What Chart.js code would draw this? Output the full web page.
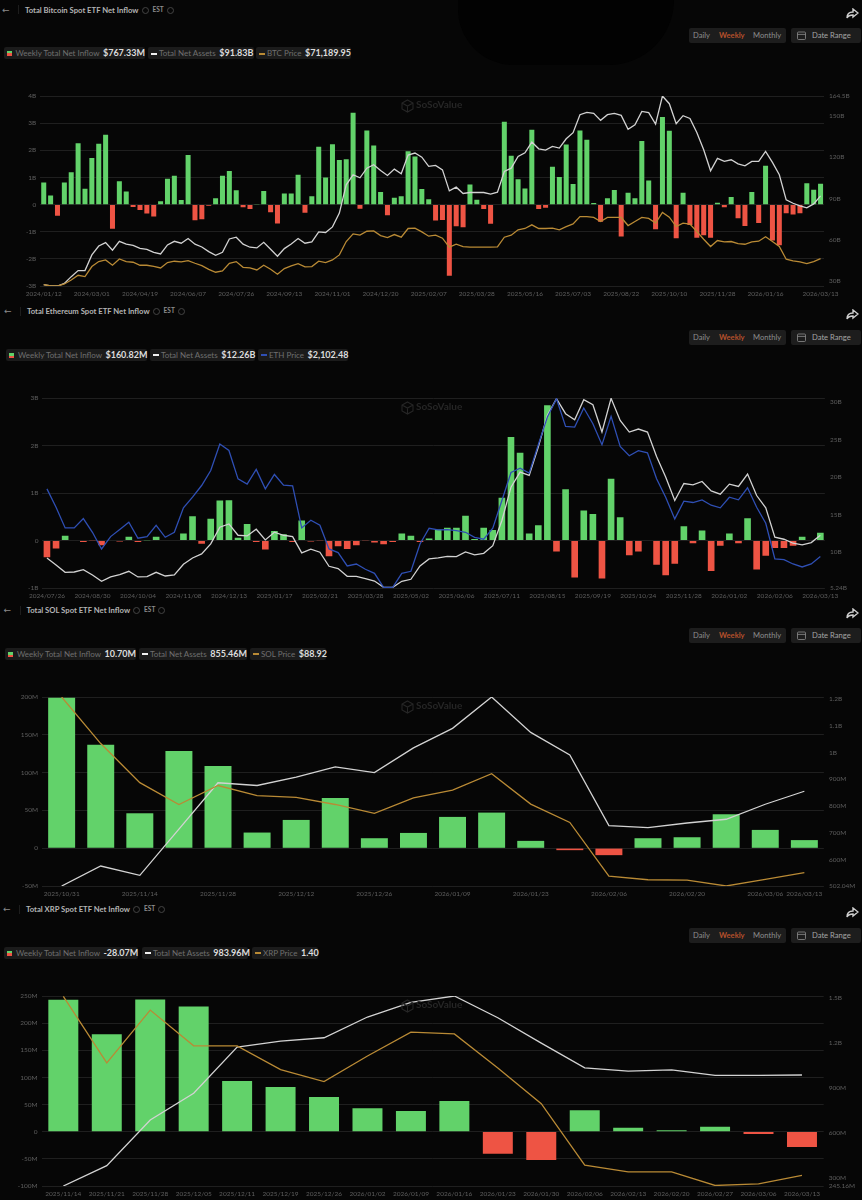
<!DOCTYPE html>
<html>
<head>
<meta charset="utf-8">
<title>Spot ETF Net Inflow</title>
<script src="https://cdn.jsdelivr.net/npm/chart.js@4/dist/chart.umd.min.js"></script>
<style>
html, body { margin: 0; padding: 0; background: #060606; }
body { width: 862px; height: 1200px; position: relative; overflow: hidden; font-family: Lato, sans-serif; filter: blur(0.3px); }
canvas { position: absolute; left: 0; }
.abs { position: absolute; white-space: nowrap; }
.title { font-size: 7.7px; font-weight: 700; color: #b4b4b4; line-height: 10px; }
.est { font-size: 6.5px; font-weight: 700; color: #8c8c8c; line-height: 10px; }
.arrow { font-family: "DejaVu Sans"; font-size: 9px; color: #8a8a8a; line-height: 10px; }
.info { width: 5px; height: 5px; border: 0.7px solid #444; border-radius: 50%; }
.sep { width: 1px; height: 9px; background: #1d1d1d; }
.pill { height: 12px; background: #1b1b1b; border-radius: 2px; font-size: 8px; color: #6f6f6f; line-height: 12px; }
.pill b { font-size: 9px; font-weight: 700; color: #dcdcdc; margin-left: 1.5px; }
.pill i { display: inline-block; vertical-align: middle; margin: 0 2px 1px 3px; }
.btnbox { height: 15px; background: #1d1d1d; border-radius: 2px; font-size: 7.6px; line-height: 15px; color: #8d8d8d; }
.btnbox span { position: absolute; top: 0; }
.wm { color: #262626; font-size: 10px; font-weight: 700; }
</style>
</head>
<body>
<div class="abs" style="left:458px;top:0;width:216px;height:65px;background:#020202;border-radius:0 0 70px 60px"></div>
<script>
// colours
const green = '#62d26a';
const red = '#ee5444';
const white = '#d2d2d2';
const orange = '#b98a35';
const blue = '#2f4fb4';
const gridColor = '#262626';
const tickColor = '#5f5f5f';

// Bitcoin (inflow in $B, assets in $B, price in $k)
const btcTickIdx = [0, 7, 14, 21, 28, 35, 42, 49, 56, 63, 70, 77, 84, 91, 98, 105, 113];
const btcTickLabels = ['2024/01/12', '2024/03/01', '2024/04/19', '2024/06/07', '2024/07/26', '2024/09/13', '2024/11/01', '2024/12/20', '2025/02/07', '2025/03/28', '2025/05/16', '2025/07/03', '2025/08/22', '2025/10/10', '2025/11/28', '2026/01/16', '2026/03/13'];
const btcInflow = [0.81, 0.33, -0.41, 0.81, 1.19, 2.26, 0.58, 1.72, 2.24, 2.57, -0.89, 0.86, 0.48, -0.09, -0.2, -0.33, -0.44, 0.12, 0.95, 1.06, 0.17, 1.83, -0.58, -0.54, -0.04, 0.23, 1.06, 1.24, 0.53, -0.1, -0.16, 0.02, 0.5, -0.28, -0.7, 0.41, 0.41, 1.1, -0.3, 0.31, 2.13, 1.0, 2.22, 1.64, 1.67, 3.38, -0.15, 2.73, 2.18, 0.46, -0.39, 0.25, 0.31, 1.96, 1.77, 0.57, 0.2, -0.59, -0.57, -2.62, -0.8, -0.84, 0.74, 0.18, -0.16, -0.71, 0.01, 3.05, 1.8, 0.93, 0.59, 2.76, -0.16, -0.12, 1.39, 1.02, 2.21, 0.76, 2.73, 2.39, 0.06, -0.63, 0.23, 0.54, -1.18, 0.44, 0.23, 2.34, 0.89, -0.91, 3.23, 2.72, -1.24, 0.44, -0.75, -1.22, -1.13, -1.22, 0.07, -0.1, 0.28, -0.5, -0.79, 0.46, -0.68, 1.43, -1.32, -1.5, -0.32, -0.37, -0.32, 0.79, 0.55, 0.767];
const btcAssets = [27.3, 26.3, 26.3, 28.2, 33.1, 37.5, 37.5, 48.9, 55.4, 57.9, 52.3, 58.8, 56.7, 55.9, 53.7, 53, 50.8, 49.6, 56.2, 58.8, 57.4, 60.8, 56.7, 54.7, 51.3, 48.6, 50.8, 60.5, 61.8, 56.7, 54.5, 54, 58.1, 53, 47.9, 53.5, 56.9, 60.8, 57.4, 58.4, 65.6, 65.2, 69.3, 79.3, 99.9, 107.2, 105, 112, 114.5, 110.3, 106.7, 111.3, 107.9, 121.5, 123, 120, 113.3, 114, 110.8, 95.5, 98.2, 93.6, 94.3, 94.3, 94.3, 93.1, 94.5, 109.6, 112, 120.5, 123.2, 131, 126.1, 125.2, 127.8, 126.6, 133.4, 137.8, 150.9, 152.6, 151.9, 146.8, 150.9, 151.9, 150.4, 140.2, 143.6, 153.3, 152.4, 144.1, 164.5, 158.9, 144.3, 150.2, 148.2, 138, 125.4, 110.1, 119.1, 116.9, 118.1, 115.2, 113.7, 116.9, 116.9, 124.2, 116.2, 107.2, 89, 86.5, 84.6, 83.1, 86, 91.83];
const btcPrice = [42.8, 41.3, 41.3, 43.5, 47.9, 53, 51.5, 62.5, 67.9, 69.7, 63.9, 70.8, 67.9, 67.2, 63.9, 63.9, 62.8, 61, 66.8, 68.3, 67.6, 69, 66.1, 63.5, 59.5, 56.3, 57.7, 66.1, 67.9, 61.7, 61, 58.8, 63.9, 59.5, 54.1, 60.3, 63.2, 65.7, 62.1, 62.5, 68.3, 66.8, 69.7, 75.2, 89.8, 98.1, 96.7, 101, 101.4, 96.3, 94.1, 97.4, 94.5, 104, 104.3, 100.3, 95.6, 96.7, 93.4, 83.6, 86.8, 84.3, 83.6, 83.6, 83.6, 83.6, 83.9, 94.5, 96.7, 102.5, 104, 108, 104, 104, 104.3, 102.5, 106.1, 109, 117, 117, 116, 111.6, 116, 116, 116, 107.2, 111.6, 116, 114.9, 109.8, 121.4, 116.3, 106.1, 109.8, 108.7, 100.7, 92.3, 84.3, 90.9, 89.4, 89.8, 87.6, 86.8, 89.4, 90.1, 94.9, 89.8, 84.3, 70.5, 68.6, 67.6, 65.7, 67.9, 71.19];
const btcLeftTicks = [4, 3, 2, 1, 0, -1, -2, -3];
const btcLeftLabels = ['4B', '3B', '2B', '1B', '0', '-1B', '-2B', '-3B'];
const btcRightTicks = [164.5, 150, 120, 90, 60, 30];
const btcRightLabels = ['164.5B', '150B', '120B', '90B', '60B', '30B'];

// Ethereum (inflow in $B, assets in $B, price in $)
const ethTickIdx = [0, 5, 10, 15, 20, 25, 30, 35, 40, 45, 50, 55, 60, 65, 70, 75, 80, 85];
const ethTickLabels = ['2024/07/26', '2024/08/30', '2024/10/04', '2024/11/08', '2024/12/13', '2025/01/17', '2025/02/21', '2025/03/28', '2025/05/02', '2025/06/06', '2025/07/11', '2025/08/15', '2025/09/19', '2025/10/24', '2025/11/28', '2026/01/02', '2026/02/06', '2026/03/13'];
const ethInflow = [-0.35, -0.17, 0.1, -0.01, -0.03, -0.005, -0.1, -0.01, -0.02, 0.08, -0.03, 0.003, 0.08, -0.01, 0.01, 0.15, 0.51, -0.07, 0.46, 0.84, 0.85, 0.06, 0.35, -0.03, -0.19, 0.2, 0.13, -0.03, 0.42, -0.02, -0.003, -0.33, -0.12, -0.18, -0.1, -0.005, -0.04, -0.08, -0.03, 0.15, 0.1, -0.03, 0.04, 0.23, 0.27, 0.27, 0.52, 0.03, 0.27, 0.22, 0.9, 2.18, 1.85, 0.15, 0.32, 2.85, -0.23, 1.08, -0.78, 0.63, 0.56, -0.8, 1.3, 0.49, -0.31, -0.23, 0.01, -0.51, -0.73, -0.49, 0.3, -0.06, 0.21, -0.64, -0.11, 0.15, -0.06, 0.47, -0.61, -0.32, -0.16, -0.16, -0.11, 0.08, 0.01, 0.161];
const ethAssets = [9.24, 8.31, 7.33, 7.37, 7.68, 6.97, 6.13, 6.71, 7.02, 7.46, 6.71, 6.75, 7.33, 6.84, 6.97, 8.4, 9.24, 9.77, 11.11, 13.33, 13.77, 12.26, 12.17, 13.06, 11.64, 12.66, 12.26, 12.08, 9.91, 10.4, 10, 8.13, 7.82, 6.8, 6.8, 6.48, 6.17, 5.33, 5.33, 6.13, 6.4, 8.17, 9.11, 9.24, 9.46, 9.42, 10.04, 9.64, 9.86, 10.88, 14.22, 18.66, 20.66, 20.22, 24, 28.22, 30.44, 28.44, 27.64, 30.31, 29.64, 26, 30.48, 27.55, 26, 26.4, 26, 22.75, 20, 16.88, 19.15, 18.97, 19.42, 18.17, 17.73, 19.06, 18.75, 20.4, 17.55, 15.9, 12, 11.73, 11.2, 10.97, 11.28, 12.26];
const ethPrice = [3279, 2960, 2601, 2601, 2763, 2525, 2235, 2450, 2572, 2699, 2421, 2450, 2647, 2438, 2525, 2949, 3134, 3337, 3598, 4057, 3946, 3453, 3361, 3616, 3279, 3529, 3343, 3332, 2601, 2734, 2647, 2235, 2172, 1940, 1974, 1882, 1812, 1568, 1568, 1812, 1847, 2322, 2595, 2566, 2572, 2554, 2525, 2438, 2404, 2595, 3076, 3564, 3639, 3552, 4045, 4526, 4845, 4364, 4352, 4683, 4410, 4045, 4538, 4016, 3854, 3941, 3906, 3453, 3134, 2757, 3065, 3042, 3088, 2995, 2949, 3134, 3088, 3297, 2960, 2682, 2061, 2050, 1974, 1922, 1974, 2102.48];
const ethLeftTicks = [3, 2, 1, 0, -1];
const ethLeftLabels = ['3B', '2B', '1B', '0', '-1B'];
const ethRightTicks = [30, 25, 20, 15, 10, 5.24];
const ethRightLabels = ['30B', '25B', '20B', '15B', '10B', '5.24B'];

// Solana (inflow in $M, assets in $M, price in $)
const solTickIdx = [0, 2, 4, 6, 8, 10, 12, 14, 16, 18, 19];
const solTickLabels = ['2025/10/31', '2025/11/14', '2025/11/28', '2025/12/12', '2025/12/26', '2026/01/09', '2026/01/23', '2026/02/06', '2026/02/20', '2026/03/06', '2026/03/13'];
const solInflow = [199, 136.9, 46.2, 128.5, 108.7, 20.7, 37.4, 66.5, 13.2, 20.2, 41.4, 47.1, 9.7, -2.6, -9.2, 13.2, 14.5, 44.9, 24.2, 10.7];
const solAssets = [502, 576.5, 541.8, 714, 887, 877, 908, 946, 925, 1017, 1090, 1207, 1075, 991, 727, 720, 737, 751, 807, 855.46];
const solPrice = [187, 161, 139.2, 127, 137.6, 132, 131, 127, 122, 130.7, 135, 144.2, 127.2, 117, 87, 85, 84.8, 81.5, 85.2, 88.92];
const solLeftTicks = [200, 150, 100, 50, 0, -50];
const solLeftLabels = ['200M', '150M', '100M', '50M', '0', '-50M'];
const solRightTicks = [1200, 1100, 1000, 900, 800, 700, 600, 502.04];
const solRightLabels = ['1.2B', '1.1B', '1B', '900M', '800M', '700M', '600M', '502.04M'];

// XRP (inflow in $M, assets in $M, price in $)
const xrpTickIdx = [0, 1, 2, 3, 4, 5, 6, 7, 8, 9, 10, 11, 12, 13, 14, 15, 16, 17];
const xrpTickLabels = ['2025/11/14', '2025/11/21', '2025/11/28', '2025/12/05', '2025/12/11', '2025/12/19', '2025/12/26', '2026/01/02', '2026/01/09', '2026/01/16', '2026/01/23', '2026/01/30', '2026/02/06', '2026/02/13', '2026/02/20', '2026/02/27', '2026/03/06', '2026/03/13'];
const xrpInflow = [243, 179.6, 243.5, 230.6, 93.5, 82.4, 64, 43, 38, 56.6, -40.6, -52.3, 39.4, 7.4, 2.5, 9.2, -4.3, -28.07];
const xrpAssets = [245, 381, 685, 863, 1170, 1210, 1232, 1370, 1468, 1510, 1365, 1196, 1032, 1010, 1018, 981, 981, 983.96];
const xrpPrice = [2.45, 2.06, 2.37, 2.16, 2.16, 2.02, 1.95, 2.1, 2.24, 2.23, 2.03, 1.82, 1.46, 1.42, 1.42, 1.34, 1.35, 1.4];
const xrpLeftTicks = [250, 200, 150, 100, 50, 0, -50, -100];
const xrpLeftLabels = ['250M', '200M', '150M', '100M', '50M', '0', '-50M', '-100M'];
const xrpRightTicks = [1500, 1200, 900, 600, 300, 245.16];
const xrpRightLabels = ['1.5B', '1.2B', '900M', '600M', '300M', '245.16M'];

function el(cls, left, top, html, extra) {
    const d = document.createElement('div');
    d.className = 'abs ' + cls;
    d.style.left = left + 'px';
    d.style.top = top + 'px';
    if (extra) d.style.cssText += extra;
    d.innerHTML = html || '';
    document.body.appendChild(d);
    return d;
}

function drawHeader(p) {
    const ty = p.titleY;
    el('arrow', p.titleX - 23, ty - 5, '←');
    el('sep', p.titleX - 7, ty - 4.5);
    const t = el('title', p.titleX, ty - 5, p.title);
    const w = t.getBoundingClientRect().width;
    el('info', p.titleX + w + 3, ty - 3);
    el('est', p.titleX + w + 14, ty - 5, 'EST');
    el('info', p.titleX + w + 28, ty - 3);

    // share button
    el('', 845, ty - 6, '<svg width="14" height="12" viewBox="0 0 14 12"><path d="M8 1l5 4-5 4V7C5 7 3 8 2 10c0-4 2-6 6-6z" fill="none" stroke="#cfcfcf" stroke-width="1.4"/></svg>');

    // period switch
    const by = p.btnY;
    el('btnbox', 689, by - 7.5, '<span style="left:4px">Daily</span><span style="left:30px;color:#b5502c;font-weight:700">Weekly</span><span style="left:64px">Monthly</span>', 'width:97px');
    el('btnbox', 791, by - 7.5, '<svg style="position:absolute;left:6px;top:3px" width="9" height="9" viewBox="0 0 9 9"><rect x="0.5" y="1" width="8" height="7.5" rx="1" fill="none" stroke="#8d8d8d" stroke-width="0.8"/><path d="M0.5 3.4h8" stroke="#8d8d8d" stroke-width="0.8"/></svg><span style="left:21px;color:#a5a5a5">Date Range</span>', 'width:70px');

    // legend
    const ly = p.legendY - 6;
    const swatch = '<i style="width:5px;height:5px;background:linear-gradient(#62d26a 50%,#ee5444 50%)"></i>';
    const dash = c => '<i style="width:6px;height:2px;background:' + c + '"></i>';
    el('pill', p.pills[0], ly, swatch + ' Weekly Total Net Inflow <b>' + p.legend[0] + '</b>', 'width:' + p.pills[1] + 'px');
    el('pill', p.pills[2], ly, dash('#f0f0f0') + 'Total Net Assets <b>' + p.legend[1] + '</b>', 'width:' + p.pills[3] + 'px');
    el('pill', p.pills[4], ly, dash(p.lineColor) + p.priceName + ' <b>' + p.legend[2] + '</b>', 'width:' + p.pills[5] + 'px');

    // watermark
    el('wm', 416, p.top + 2, 'SoSoValue');
    el('', 401, p.top + 1, '<svg width="13" height="14" viewBox="0 0 13 14"><path d="M6.5 1l5.5 3v6l-5.5 3L1 10V4z M1 4l5.5 3 5.5-3 M6.5 7v6" fill="none" stroke="#262626" stroke-width="1.1"/></svg>');
}

function drawChart(p) {
    const canvas = document.createElement('canvas');
    const pad = 6;
    const xHeight = 14;
    canvas.width = 862;
    canvas.height = Math.round(p.bottom - p.top + pad + xHeight);
    canvas.style.top = (p.top - pad) + 'px';
    document.body.appendChild(canvas);

    // tick label only on the marked weeks
    const categories = p.inflow.map((v, i) => {
        const k = p.tickIdx.indexOf(i);
        return k < 0 ? '' : p.tickLabels[k];
    });
    const tickFont = { family: 'Lato', size: 6.5 };

    // keep the plot edges exact, the tick labels have room in the canvas
    const noPad = s => { s.paddingTop = 0; s.paddingBottom = 0; };

    new Chart(canvas.getContext('2d'), {
        type: 'bar',
        data: {
            labels: categories,
            datasets: [
                {
                    type: 'line', data: p.price, yAxisID: 'y2', order: 1,
                    borderColor: p.lineColor, borderWidth: 1.3, pointRadius: 0, tension: 0
                },
                {
                    type: 'line', data: p.assets, yAxisID: 'y1', order: 2,
                    borderColor: white, borderWidth: 1.3, pointRadius: 0, tension: 0
                },
                {
                    type: 'bar', data: p.inflow, yAxisID: 'y', order: 3,
                    backgroundColor: p.inflow.map(v => v >= 0 ? green : red),
                    barPercentage: p.barWidth, categoryPercentage: 1
                }
            ]
        },
        options: {
            responsive: false,
            animation: false,
            layout: { padding: { top: pad } },
            plugins: { legend: { display: false }, tooltip: { enabled: false } },
            scales: {
                x: {
                    grid: { display: false, drawTicks: false },
                    border: { display: false },
                    ticks: { autoSkip: false, maxRotation: 0, padding: 4, color: tickColor, font: tickFont },
                    afterFit: s => { s.height = xHeight; }
                },
                y: {
                    position: 'left',
                    min: p.leftRange[0], max: p.leftRange[1],
                    grid: { color: gridColor, drawTicks: false, lineWidth: 0.8 },
                    border: { display: false },
                    afterBuildTicks: s => { s.ticks = p.leftTicks.map(v => ({ value: v })); },
                    ticks: {
                        autoSkip: false, padding: 4, color: tickColor, font: tickFont,
                        callback: v => p.leftLabels[p.leftTicks.indexOf(v)]
                    },
                    afterFit: s => { s.width = p.left; noPad(s); }
                },
                y1: {
                    position: 'right',
                    min: p.rightRange[0], max: p.rightRange[1],
                    grid: { display: false, drawTicks: false },
                    border: { display: false },
                    afterBuildTicks: s => { s.ticks = p.rightTicks.map(v => ({ value: v })); },
                    ticks: {
                        autoSkip: false, padding: 5, color: tickColor, font: tickFont,
                        callback: v => p.rightLabels[p.rightTicks.indexOf(v)]
                    },
                    afterFit: s => { s.width = 862 - p.right; noPad(s); }
                },
                y2: { display: false, min: p.priceRange[0], max: p.priceRange[1] }
            }
        }
    });
}

const panels = [
    {
        title: 'Total Bitcoin Spot ETF Net Inflow', priceName: 'BTC Price', lineColor: orange,
        legend: ['$767.33M', '$91.83B', '$71,189.95'], pills: [3.5, 141.5, 148, 106, 256, 95],
        titleX: 25, titleY: 9.7, legendY: 53.3, btnY: 35,
        top: 96.3, bottom: 286, left: 40.3, right: 824, barWidth: 0.73,
        inflow: btcInflow, assets: btcAssets, price: btcPrice,
        tickIdx: btcTickIdx, tickLabels: btcTickLabels,
        leftTicks: btcLeftTicks, leftLabels: btcLeftLabels, leftRange: [-3, 4],
        rightTicks: btcRightTicks, rightLabels: btcRightLabels, rightRange: [26.3, 164.5],
        priceRange: [41.3, 248.4]
    },
    {
        title: 'Total Ethereum Spot ETF Net Inflow', priceName: 'ETH Price', lineColor: blue,
        legend: ['$160.82M', '$12.26B', '$2,102.48'], pills: [6, 141, 150, 105, 258, 90],
        titleX: 27, titleY: 311, legendY: 355, btnY: 337,
        top: 397.7, bottom: 587.3, left: 42.4, right: 824.9, barWidth: 0.73,
        inflow: ethInflow, assets: ethAssets, price: ethPrice,
        tickIdx: ethTickIdx, tickLabels: ethTickLabels,
        leftTicks: ethLeftTicks, leftLabels: ethLeftLabels, leftRange: [-1, 3],
        rightTicks: ethRightTicks, rightLabels: ethRightLabels, rightRange: [5.24, 30.53],
        priceRange: [1557, 4857]
    },
    {
        title: 'Total SOL Spot ETF Net Inflow', priceName: 'SOL Price', lineColor: orange,
        legend: ['10.70M', '855.46M', '$88.92'], pills: [5, 131, 139, 108, 250, 76],
        titleX: 26.5, titleY: 610, legendY: 654, btnY: 635.5,
        top: 696.7, bottom: 886, left: 42.1, right: 823.9, barWidth: 0.69,
        inflow: solInflow, assets: solAssets, price: solPrice,
        tickIdx: solTickIdx, tickLabels: solTickLabels,
        leftTicks: solLeftTicks, leftLabels: solLeftLabels, leftRange: [-50, 200],
        rightTicks: solRightTicks, rightLabels: solRightLabels, rightRange: [502.04, 1207],
        priceRange: [81.5, 187]
    },
    {
        title: 'Total XRP Spot ETF Net Inflow', priceName: 'XRP Price', lineColor: orange,
        legend: ['-28.07M', '983.96M', '1.40'], pills: [4, 134, 142, 106, 252, 66],
        titleX: 26, titleY: 909, legendY: 953, btnY: 935,
        top: 995.7, bottom: 1185.3, left: 41.6, right: 823.7, barWidth: 0.69,
        inflow: xrpInflow, assets: xrpAssets, price: xrpPrice,
        tickIdx: xrpTickIdx, tickLabels: xrpTickLabels,
        leftTicks: xrpLeftTicks, leftLabels: xrpLeftLabels, leftRange: [-100, 250],
        rightTicks: xrpRightTicks, rightLabels: xrpRightLabels, rightRange: [245.16, 1510],
        priceRange: [1.337, 2.4525]
    }
];

panels.forEach(p => {
    drawChart(p);
    drawHeader(p);
});
</script>
</body>
</html>
